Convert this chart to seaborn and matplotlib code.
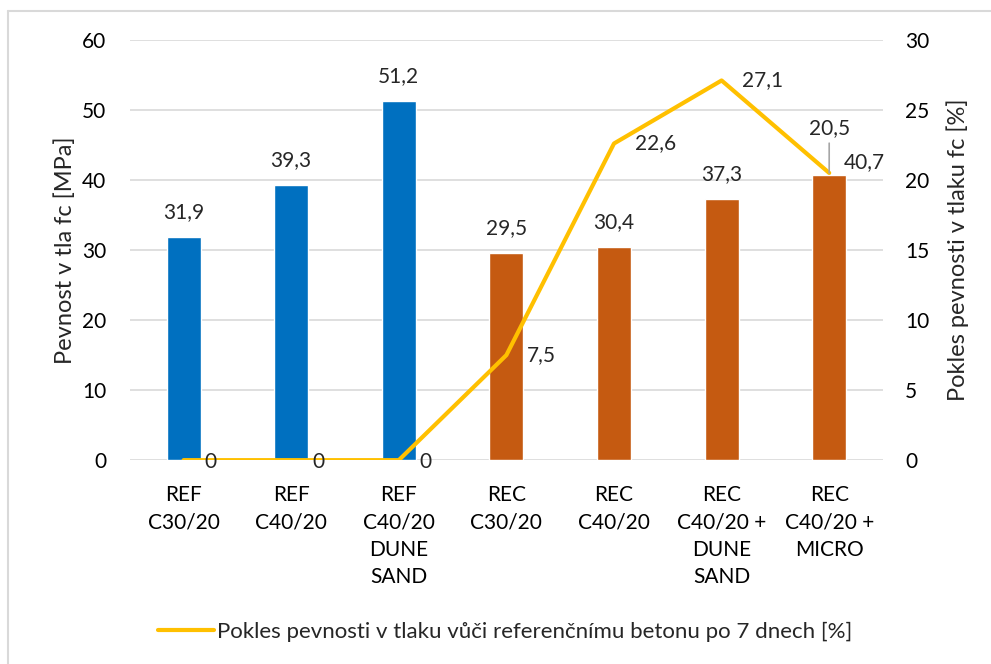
import numpy as np
import pandas as pd
import matplotlib
matplotlib.use('Agg')
import matplotlib.pyplot as plt
from matplotlib.lines import Line2D
import seaborn as sns

# Data
categories = ['REF\nC30/20', 'REF\nC40/20', 'REF\nC40/20\nDUNE\nSAND',
              'REC\nC30/20', 'REC\nC40/20', 'REC\nC40/20 +\nDUNE\nSAND',
              'REC\nC40/20 +\nMICRO']
groups = ['REF', 'REF', 'REF', 'REC', 'REC', 'REC', 'REC']
strength = [31.9, 39.3, 51.2, 29.5, 30.4, 37.3, 40.7]
drop = [0, 0, 0, 7.5, 22.6, 27.1, 20.5]
legend_label = 'Pokles pevnosti v tlaku vůči referenčnímu betonu po 7 dnech [%]'

df = pd.DataFrame({'cat': categories, 'group': groups, 'fc': strength, 'drop': drop})

sns.set_theme(style='white')
plt.rcParams['font.family'] = ['Lato', 'DejaVu Sans']

FS = 15

fig = plt.figure(figsize=(9.91, 6.64), dpi=100)
ax = fig.add_axes([0.131, 0.307, 0.760, 0.633])

palette = {'REF': '#0070C0', 'REC': '#C55A11'}
sns.barplot(data=df, x='cat', y='fc', hue='group', palette=palette, width=0.316,
            dodge=False, legend=False, saturation=1, ax=ax)

ax.set_ylim(0, 60)
ax.set_yticks(range(0, 61, 10))
ax.set_xlim(-0.5, len(categories) - 0.5)
ax.yaxis.grid(True, color='#D9D9D9', linewidth=1.2)
ax.set_axisbelow(True)
for s in ax.spines.values():
    s.set_visible(False)
ax.set_xlabel('')
ax.set_ylabel('Pevnost v tla fc [MPa]', fontsize=17, labelpad=4)
ax.tick_params(axis='both', length=0, labelsize=FS, colors='black')
ax.tick_params(axis='y', pad=17)
ax.tick_params(axis='x', pad=18)
for t in ax.get_xticklabels():
    t.set_linespacing(1.45)

# bar value labels
x = np.arange(len(categories))
for i, v in enumerate(strength):
    off = (25, 9) if i == len(strength) - 1 else (0, 18)
    ax.annotate(f'{v:.1f}'.replace('.', ','), (x[i], v), xytext=off,
                textcoords='offset points', ha='center', va='center', fontsize=FS)

ax2 = ax.twinx()
sns.lineplot(x=x, y=df['drop'], color='#FFC000', linewidth=3, ax=ax2)
ax2.set_ylim(0, 30)
ax2.set_yticks(range(0, 31, 5))
ax2.set_xlim(-0.5, len(categories) - 0.5)
for s in ax2.spines.values():
    s.set_visible(False)
ax2.set_ylabel('Pokles pevnosti v tlaku fc [%]', fontsize=17, labelpad=12)
ax2.tick_params(axis='y', length=0, labelsize=FS, pad=16, colors='black')

# line value labels
for i, v in enumerate(drop):
    txt = f'{v:g}'.replace('.', ',')
    if i == len(drop) - 1:
        ax2.annotate(txt, (x[i], v), xytext=(0, 32), textcoords='offset points',
                     ha='center', va='center', fontsize=FS,
                     arrowprops=dict(arrowstyle='-', color='#A6A6A6', lw=1.2,
                                     shrinkA=1, shrinkB=0, relpos=(0.5, 0)))
    else:
        ax2.annotate(txt, (x[i], v), xytext=(15, 0 if v > 0 else -1),
                     textcoords='offset points', ha='left', va='center', fontsize=FS)

handle = Line2D([0], [0], color='#FFC000', linewidth=3)
fig.legend([handle], [legend_label], loc='center', bbox_to_anchor=(0.51, 0.048),
           frameon=False, fontsize=16, handlelength=2.5, handletextpad=0.15)

# chart area border (top and left visible)
fig.add_artist(Line2D([0.008, 0.008], [0, 0.984], color='#D9D9D9', lw=1.5,
                      transform=fig.transFigure))
fig.add_artist(Line2D([0.008, 1], [0.984, 0.984], color='#D9D9D9', lw=1.5,
                      transform=fig.transFigure))

fig.savefig('out.png', dpi=100)
